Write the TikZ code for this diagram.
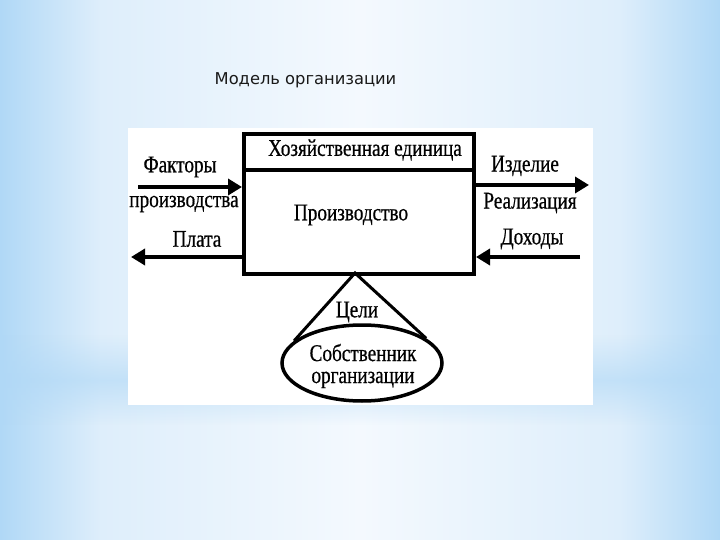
\documentclass[tikz,border=0pt]{standalone}
\usepackage{fontspec}
\setmainfont{Liberation Serif}
\newfontfamily\titlefont{DejaVu Sans}
\newfontfamily\diagfont[FakeStretch=0.8,FakeBold=0.6]{Liberation Serif}
\usetikzlibrary{arrows.meta,shapes.geometric,fadings}
\definecolor{bgedge}{RGB}{176,216,246}
\definecolor{bgmid}{RGB}{222,238,251}
\definecolor{bgcenter}{RGB}{244,249,254}
\pgfdeclarehorizontalshading{slidebg}{100bp}{color(0bp)=(bgedge); color(25bp)=(bgedge); color(32bp)=(bgmid); color(50bp)=(bgcenter); color(68bp)=(bgmid); color(75bp)=(bgedge); color(100bp)=(bgedge)}
\tikzfading[name=bandfade, top color=transparent!100, bottom color=transparent!100, middle color=transparent!40]
\tikzset{
  lbl/.style={font=\diagfont\fontsize{24}{25}\selectfont, inner sep=0pt},
  thickline/.style={line width=4pt},
  arr/.style={line width=4pt, -{Triangle[length=14pt,width=16pt]}},
}
\begin{document}
\begin{tikzpicture}[x=1pt,y=-1pt]
\useasboundingbox (0,0) rectangle (720,540);
% background
\shade[shading=slidebg] (0,0) rectangle (720,540);
\fill[bgedge,path fading=bandfade] (0,335) rectangle (720,425);
\fill[white] (128,128) rectangle (593,405);
% title
\node[font=\titlefont\fontsize{16.3}{18}\selectfont, text=black!90, inner sep=0pt] (title) at (305.5,80) {Модель организации};
% main box
\node[draw, thickline, minimum width=230pt, minimum height=140pt, anchor=north west, inner sep=0pt] (box) at (242,132) {};
\coordinate (hsepL) at (242,170);
\draw[thickline] (hsepL) -- (hsepL -| box.east);
\node[lbl] (unit) at (365,150) {Хозяйственная единица};
\node[lbl] (prod) at (351,215) {Производство};
% left side
\coordinate (fs) at (138,187);
\draw[arr] (fs) -- (fs -| box.west);
\coordinate (pe) at (131,257);
\draw[arr] (pe -| box.west) -- (pe);
\node[lbl] (fact) at (180,167) {Факторы};
\node[lbl] (fprod) at (184,204) {производства};
\node[lbl] (plata) at (197,239) {Плата};
% right side
\coordinate (ie) at (589,185);
\draw[arr] (ie -| box.east) -- (ie);
\coordinate (ds) at (580,257);
\draw[arr] (ds) -- (ds -| box.east);
\node[lbl] (izd) at (525,166) {Изделие};
\node[lbl] (real) at (530,203) {Реализация};
\node[lbl] (doh) at (532,239) {Доходы};
% owner
\node[draw, ellipse, line width=3.5pt, minimum width=160pt, minimum height=76pt, inner sep=0pt] (own) at (362,363) {};
\node[lbl, align=center] (ownt) at (363,366) {Собственник\\[-3pt]организации};
\coordinate (apex) at (355,273);
\draw[line width=3pt, line join=miter] (own.162) -- (apex) -- (own.21);
\node[lbl] (goals) at (357,312) {Цели};
\end{tikzpicture}
\end{document}
